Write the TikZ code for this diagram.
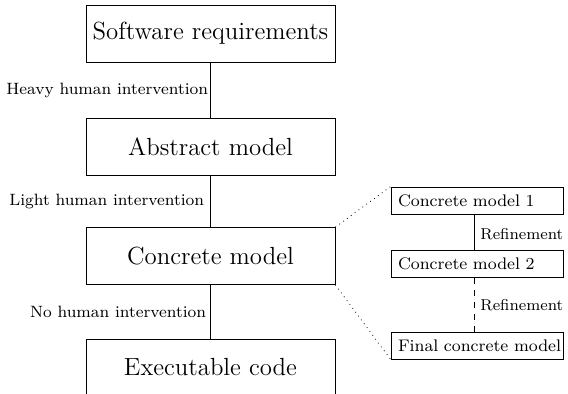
\documentclass[tikz,border=0pt]{standalone}
\begin{document}
\begin{tikzpicture}[x=0.5pt,y=-0.5pt,
  bigbox/.style={draw,minimum width=124.5pt,minimum height=28.5pt,inner sep=0pt,font=\fontsize{12.4}{15}\selectfont},
  smallbox/.style={draw,text width=79pt,align=left,inner xsep=3.5pt,inner ysep=0pt,minimum height=13.5pt,font=\fontsize{8.4}{10}\selectfont},
  lbl/.style={inner sep=1pt,font=\fontsize{8.2}{10}\selectfont},
  rlbl/.style={inner sep=0pt,font=\fontsize{7.9}{9}\selectfont}]
\useasboundingbox (0,0) rectangle (568,394);
\clip (0,0) rectangle (568,394);
\node[bigbox] (sr) at (210.5,33.5) {Software requirements};
\node[bigbox] (am) at (210.5,146.5) {Abstract model};
\node[bigbox] (cm) at (210.5,256) {Concrete model};
\node[bigbox] (ec) at (210.5,367.5) {Executable code};
\node[smallbox] (c1) at (477,200.5) {\mbox{Concrete model 1}};
\node[smallbox] (c2) at (477,264) {\mbox{Concrete model 2}};
\node[smallbox] (fc) at (477,345.5) {\mbox{Final concrete model}};
\coordinate (rx) at (474,0);
\draw (sr) -- node[lbl,anchor=east,pos=0.5] {Heavy human intervention} (am);
\draw (am) -- node[lbl,anchor=east,pos=0.5,xshift=-2pt] {Light human intervention} (cm);
\draw (cm) -- node[lbl,anchor=east,pos=0.5,xshift=-1pt] {No human intervention} (ec);
\draw (c1.south -| rx) -- node[rlbl,anchor=west,pos=0.55,xshift=3pt] {Refinement} (c2.north -| rx);
\draw[dashed] (c2.south -| rx) -- node[rlbl,anchor=west,pos=0.5,xshift=3pt] {Refinement} (fc.north -| rx);
\draw[dotted] (cm.north east) -- (c1.north west);
\draw[dotted] (cm.south east) -- (fc.south west);
\end{tikzpicture}
\end{document}
